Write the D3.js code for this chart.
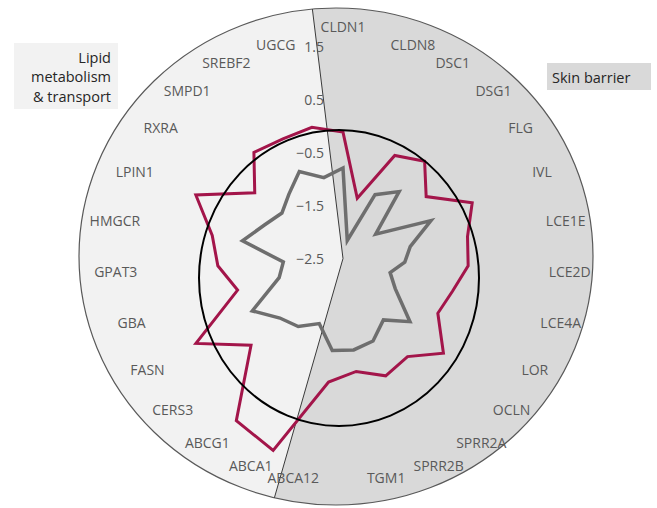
<!DOCTYPE html>
<html>
<head>
<meta charset="utf-8">
<script src="https://cdn.jsdelivr.net/npm/d3@7"></script>
<style>
  html, body { margin: 0; padding: 0; background: #ffffff; }
  svg { display: block; }
</style>
</head>
<body>
<svg id="chart" width="657" height="508"></svg>
<script>
// Gene groups, clockwise from the top
const skinBarrierGenes = ["CLDN1", "CLDN8", "DSC1", "DSG1", "FLG", "IVL", "LCE1E", "LCE2D",
  "LCE4A", "LOR", "OCLN", "SPRR2A", "SPRR2B", "TGM1", "ABCA12"];
const lipidGenes = ["ABCA1", "ABCG1", "CERS3", "FASN", "GBA", "GPAT3", "HMGCR", "LPIN1",
  "RXRA", "SMPD1", "SREBF2", "UGCG"];
const categories = skinBarrierGenes.concat(lipidGenes);

// Expression values (log scale) per gene
const seriesRed = [-0.11, -1.33, -0.32, -0.10, -0.54, 0.16, -0.11, -0.13, -0.34, -0.43,
  0.11, -0.28, -0.14, -0.35, -0.15, 1.36, 1.17, -0.11, 0.71, -0.42,
  -0.13, 0.01, 0.53, -0.42, 0.12, 0.03, 0.05];
const seriesGray = [-0.79, -2.15, -1.15, -0.85, -1.73, -0.69, -1.21, -1.33, -1.57, -1.36,
  -0.76, -1.11, -0.84, -0.76, -0.75, -1.19, -0.96, -0.86, -0.52, -1.24,
  -1.37, -0.57, -0.89, -1.06, -0.91, -0.66, -0.93];

const radialTicks = [1.5, 0.5, -0.5, -1.5, -2.5];
const lipidLabel = ["Lipid", "metabolism", "& transport"];
const skinLabel = ["Skin barrier"];

// ---- layout ----
const cx = 343, cy = 258.5;           // radar centre
const plotRadius = 211.6;
const outer = { cx: 336, cy: 256.5, rx: 257, ry: 248.5 };
const ring = { cx: 339, cy: 278, rx: 140, ry: 148 };
const groupEdgesDeg = [-7, 196];      // boundaries between the two gene groups
const labelRx = 206, labelRy = 213, labelCy = 259;
const font = "'Open Sans', 'Noto Sans', sans-serif";
const labelColor = "#595959";

const svg = d3.select("#chart");

const rScale = d3.scaleLinear().domain([-2.5, 1.5]).range([0, plotRadius]);
const angle = d3.scaleLinear().domain([0, categories.length]).range([0, 2 * Math.PI]);

function pt(i, v) {
  const a = angle(i), r = rScale(v);
  return [cx + r * Math.sin(a), cy - r * Math.cos(a)];
}

// intersection of a ray from the radar centre with the outer ellipse
function rayToOuter(deg) {
  const a = deg * Math.PI / 180;
  const dx = Math.sin(a), dy = -Math.cos(a);
  const ox = (cx - outer.cx) / outer.rx, oy = (cy - outer.cy) / outer.ry;
  const ux = dx / outer.rx, uy = dy / outer.ry;
  const A = ux * ux + uy * uy, B = 2 * (ox * ux + oy * uy), C = ox * ox + oy * oy - 1;
  const t = (-B + Math.sqrt(B * B - 4 * A * C)) / (2 * A);
  return [cx + t * dx, cy + t * dy];
}

// ---- background: two group sectors ----
svg.append("ellipse")
  .attr("cx", outer.cx).attr("cy", outer.cy)
  .attr("rx", outer.rx).attr("ry", outer.ry)
  .attr("fill", "#f2f2f2");

const pTop = rayToOuter(groupEdgesDeg[0]);
const pBot = rayToOuter(groupEdgesDeg[1]);
svg.append("path")
  .attr("d", `M${cx},${cy} L${pTop[0]},${pTop[1]} A${outer.rx},${outer.ry} 0 1 1 ${pBot[0]},${pBot[1]} Z`)
  .attr("fill", "#d9d9d9");

svg.append("ellipse")
  .attr("cx", outer.cx).attr("cy", outer.cy)
  .attr("rx", outer.rx).attr("ry", outer.ry)
  .attr("fill", "none").attr("stroke", "#595959").attr("stroke-width", 1.2);

svg.append("path")
  .attr("d", `M${pTop[0]},${pTop[1]} L${cx},${cy} L${pBot[0]},${pBot[1]}`)
  .attr("fill", "none").attr("stroke", "#3a3a3a").attr("stroke-width", 1);

// ---- data polygons ----
const line = d3.line().curve(d3.curveLinearClosed);

svg.append("path")
  .attr("d", line(seriesGray.map((v, i) => pt(i, v))))
  .attr("fill", "none").attr("stroke", "#6e6e6e")
  .attr("stroke-width", 3.5).attr("stroke-linejoin", "miter");

svg.append("path")
  .attr("d", line(seriesRed.map((v, i) => pt(i, v))))
  .attr("fill", "none").attr("stroke", "#a3154a")
  .attr("stroke-width", 3).attr("stroke-linejoin", "miter");

// reference ring
svg.append("ellipse")
  .attr("cx", ring.cx).attr("cy", ring.cy)
  .attr("rx", ring.rx).attr("ry", ring.ry)
  .attr("fill", "none").attr("stroke", "#000000").attr("stroke-width", 2);

// ---- value axis labels along the first spoke ----
const fmt = d3.format(".1f");
svg.append("g").selectAll("text").data(radialTicks).join("text")
  .attr("x", cx - 19)
  .attr("y", d => cy - rScale(d))
  .attr("text-anchor", "end")
  .attr("dominant-baseline", "central")
  .attr("font-family", font).attr("font-size", 14)
  .attr("fill", labelColor)
  .text(d => fmt(d));

// ---- category labels ----
const fs = 14;
svg.append("g").selectAll("text").data(categories).join("text")
  .each(function (d, i) {
    const a = angle(i), s = Math.sin(a), c = Math.cos(a);
    const px = cx + labelRx * s;
    let py = labelCy - labelRy * c - c * fs / 2;
    if (i === 0) py = cy - rScale(radialTicks[0]) - fs * 1.45; // clear of the axis labels
    d3.select(this)
      .attr("x", px).attr("y", py)
      .attr("text-anchor", s > 0.05 ? "start" : (s < -0.05 ? "end" : "middle"));
  })
  .attr("dominant-baseline", "central")
  .attr("font-family", font).attr("font-size", fs)
  .attr("fill", labelColor)
  .text(d => d);

// ---- group labels ----
const lipidBox = svg.append("g");
lipidBox.append("rect").attr("x", 14).attr("y", 43).attr("width", 104).attr("height", 66)
  .attr("fill", "#f2f2f2");
lipidBox.selectAll("text").data(lipidLabel).join("text")
  .attr("x", 111).attr("y", (d, i) => 57 + i * 19.5)
  .attr("text-anchor", "end").attr("dominant-baseline", "central")
  .attr("font-family", font).attr("font-size", 14.5).attr("fill", "#262626")
  .text(d => d);

const skinBox = svg.append("g");
skinBox.append("rect").attr("x", 547).attr("y", 63).attr("width", 104).attr("height", 27)
  .attr("fill", "#d9d9d9");
skinBox.selectAll("text").data(skinLabel).join("text")
  .attr("x", 552).attr("y", 77)
  .attr("dominant-baseline", "central")
  .attr("font-family", font).attr("font-size", 14.5).attr("fill", "#262626")
  .text(d => d);
</script>
</body>
</html>
